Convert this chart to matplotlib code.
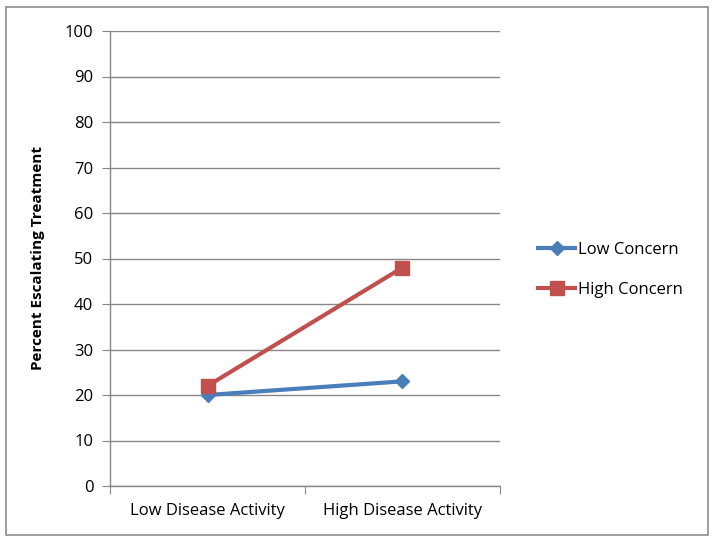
import matplotlib
matplotlib.use("Agg")
import matplotlib.pyplot as plt
from matplotlib.patches import Rectangle

# data
categories = ["Low Disease Activity", "High Disease Activity"]
low_concern = [20, 23]
high_concern = [22, 48]
yticks = [0, 10, 20, 30, 40, 50, 60, 70, 80, 90, 100]

plt.rcParams['font.family'] = ['Open Sans', 'DejaVu Sans']
grid_col = '#878787'

fig = plt.figure(figsize=(7.14, 5.41), dpi=100)
ax = fig.add_axes([110/714, 55/541, 390/714, 455/541])

x = [0.5, 1.5]
ax.plot(x, low_concern, '-D', color='#4A7EBB', lw=3, ms=7, label='Low Concern', zorder=3)
ax.plot(x, high_concern, '-s', color='#C0504D', lw=3, ms=10, label='High Concern', zorder=3)

ax.set_xlim(0, 2)
ax.set_ylim(0, 100)
ax.set_yticks(yticks)
ax.set_xticks([0, 1, 2])
ax.set_xticklabels([])
ax.set_xticks(x, minor=True)
ax.set_xticklabels(categories, minor=True)
ax.tick_params(axis='x', which='minor', length=0, pad=12, labelsize=12)
ax.tick_params(axis='x', which='major', length=6, color=grid_col, direction='out')
ax.tick_params(axis='y', length=6, color=grid_col, direction='out', labelsize=12, pad=6)
ax.yaxis.grid(True, color=grid_col, lw=1)
ax.set_axisbelow(True)
for s in ['top', 'right']:
    ax.spines[s].set_visible(False)
for s in ['left', 'bottom']:
    ax.spines[s].set_color(grid_col)
    ax.spines[s].set_linewidth(1)

ax.set_ylabel('Percent Escalating Treatment', fontsize=11, fontweight='bold', labelpad=14)

ax.legend(loc='center left', bbox_to_anchor=(1.06, 0.475), frameon=False, fontsize=12,
          handlelength=2.2, handletextpad=0.15, labelspacing=1.45)

fig.patches.append(Rectangle((6/714, 6/541), 702/714, 528/541, transform=fig.transFigure,
                             fill=False, edgecolor='#8c8c8c', lw=1.2))

fig.savefig('out.png', dpi=100)
